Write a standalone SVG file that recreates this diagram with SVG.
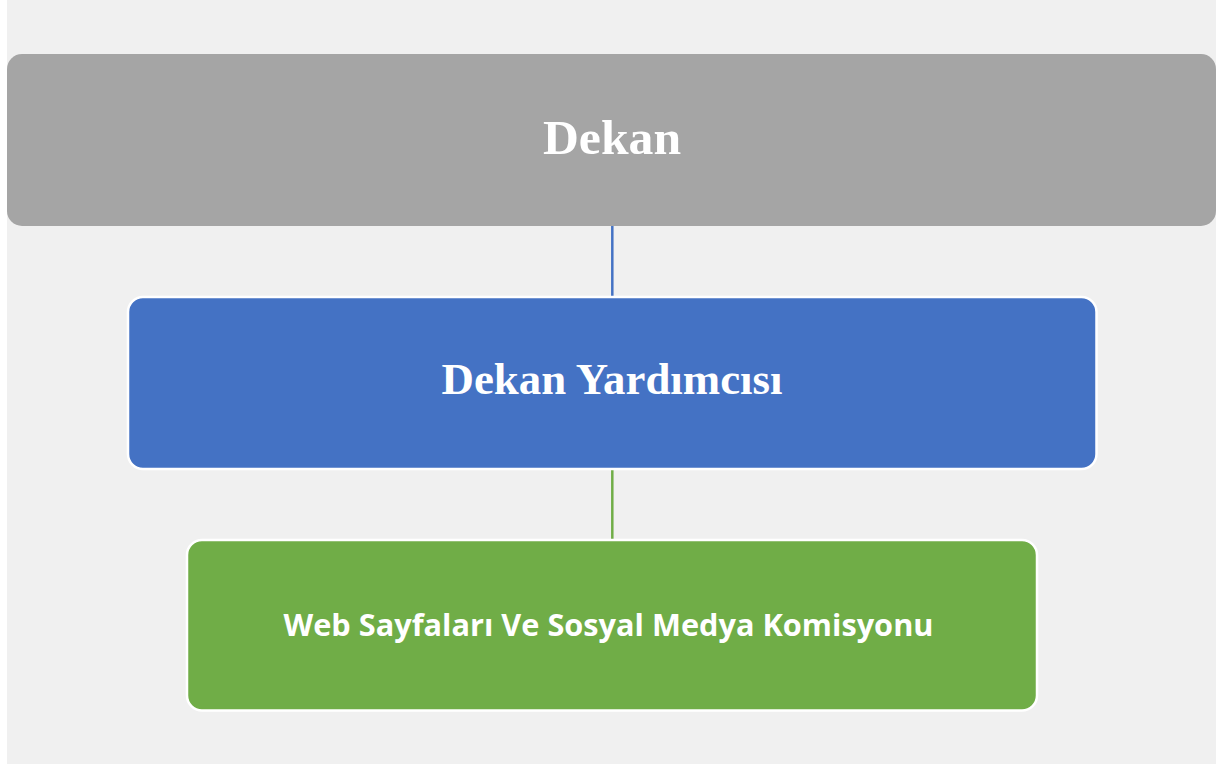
<svg xmlns="http://www.w3.org/2000/svg" width="1224" height="764" viewBox="0 0 1224 764">
<style>
.bg{fill:#f0f0f0}
.box{stroke:#ffffff;stroke-width:2.5}
.ser{font-family:"Liberation Serif","DejaVu Serif",serif;font-weight:bold;fill:#ffffff;text-anchor:middle}
.sans{font-family:"Open Sans","Liberation Sans",sans-serif;font-weight:bold;fill:#ffffff}
.con{stroke-width:2.5;fill:none}
</style>
<rect width="1224" height="764" fill="#ffffff"/>
<rect class="bg" x="7" y="0" width="1209" height="764"/>
<g id="connectors">
<line class="con" x1="612.3" y1="226" x2="612.3" y2="296" stroke="#4472c4"/>
<line class="con" x1="612.3" y1="469" x2="612.3" y2="539" stroke="#70ad47"/>
</g>
<g id="node-dekan">
<rect x="7" y="54" width="1209" height="172" rx="15" ry="15" fill="#a5a5a5"/>
<text class="ser" x="612" y="154" font-size="48" textLength="138" lengthAdjust="spacingAndGlyphs">Dekan</text>
</g>
<g id="node-dekan-yardimcisi">
<rect class="box" x="128" y="297" width="968.5" height="172" rx="15" ry="15" fill="#4472c4"/>
<text class="ser" x="612" y="394" font-size="44" textLength="341" lengthAdjust="spacingAndGlyphs">Dekan Yardımcısı</text>
</g>
<g id="node-komisyon">
<rect class="box" x="187" y="540" width="850" height="170.5" rx="15" ry="15" fill="#70ad47"/>
<text class="sans" x="283.5" y="636" font-size="31" textLength="650" lengthAdjust="spacingAndGlyphs">Web Sayfaları Ve Sosyal Medya Komisyonu</text>
</g>
</svg>
